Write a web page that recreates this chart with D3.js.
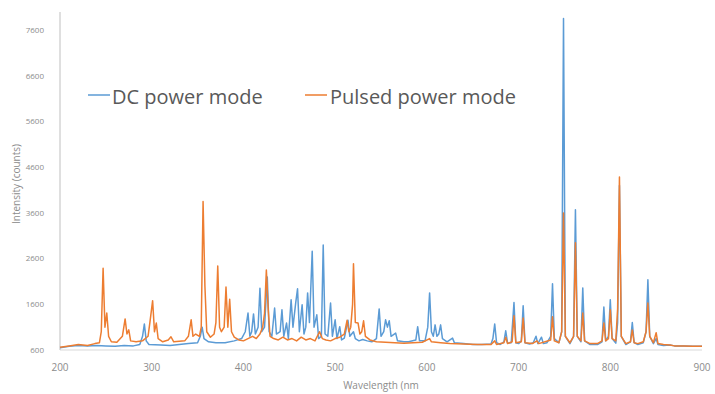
<!DOCTYPE html>
<html>
<head>
<meta charset="utf-8">
<script src="https://cdn.jsdelivr.net/npm/d3@7"></script>
<style>
  body { margin: 0; background: #fff; }
  svg { display: block; font-family: "Open Sans", "Liberation Sans", sans-serif; }
  .tick-label { fill: #8c8c8c; }
  .axis-title { fill: #8c8c8c; }
  .legend-text { fill: #595959; }
</style>
</head>
<body>
<div id="chart"></div>
<script>
// series names
const seriesNames = ["DC power mode", "Pulsed power mode"];

// DC power mode spectrum (wavelength nm, intensity counts)
const dcWavelength = [200, 210, 220, 230, 240, 250, 260, 270, 280, 287, 290, 292, 294, 297, 310, 320, 330, 340, 350, 353, 355, 357, 362, 370, 380, 390, 398, 402, 405, 407, 409, 411, 413, 416, 418, 420, 423, 426, 428, 431, 434, 436, 440, 442, 444, 447, 449, 452, 454, 457, 459, 461, 464, 466, 468, 470, 472, 475, 477, 480, 482, 485, 487, 489, 492, 495, 497, 500, 502, 505, 507, 510, 514, 516, 520, 522, 526, 530, 535, 540, 545, 548, 550, 553, 555, 557, 559, 561, 566, 568, 575, 580, 588, 590, 592, 598, 601, 603, 605, 607, 609, 611, 613, 615, 617, 622, 628, 630, 640, 650, 660, 670, 672, 674, 676, 680, 684, 686, 688, 692, 695, 697, 700, 703, 705, 707, 712, 716, 719, 721, 725, 727, 731, 735, 737, 739, 744, 747, 749, 751, 756, 760, 762, 764, 768, 770, 772, 778, 786, 791, 793, 795, 798, 800, 802, 806, 808, 810, 812, 817, 822, 824, 826, 830, 836, 839, 841, 843, 847, 850, 852, 858, 865, 870, 880, 890, 900];
const dcIntensity = [650, 680, 700, 690, 700, 690, 680, 700, 690, 720, 900, 1170, 800, 720, 710, 700, 720, 740, 760, 900, 1100, 850, 780, 760, 760, 800, 850, 1000, 1410, 900, 1000, 1390, 950, 1100, 1950, 1000, 1100, 2200, 1000, 900, 1520, 950, 1000, 1480, 900, 1190, 850, 1700, 1100, 1630, 1940, 1000, 1590, 950, 1100, 1850, 1200, 2760, 1100, 1370, 850, 900, 2900, 950, 900, 1630, 900, 1260, 850, 1110, 820, 860, 1250, 900, 1000, 850, 800, 830, 800, 780, 850, 1500, 900, 1000, 1260, 1100, 1240, 900, 970, 800, 780, 780, 820, 1110, 800, 800, 1100, 1850, 1000, 900, 1150, 900, 950, 1150, 850, 780, 860, 760, 740, 720, 720, 730, 850, 1170, 760, 720, 780, 1020, 750, 760, 1640, 760, 740, 800, 1570, 760, 730, 760, 900, 740, 880, 740, 760, 900, 2050, 850, 760, 1000, 7860, 900, 740, 900, 3670, 900, 780, 1960, 800, 720, 720, 780, 1540, 800, 900, 1700, 850, 750, 1200, 4200, 900, 720, 780, 1200, 760, 720, 760, 1000, 2140, 900, 740, 850, 720, 700, 710, 690, 690, 680, 680];

// Pulsed power mode spectrum (wavelength nm, intensity counts)
const pulsedWavelength = [200, 210, 220, 230, 238, 243, 245, 247, 249, 251, 253, 256, 262, 268, 271, 273, 275, 277, 283, 290, 296, 298, 301, 303, 305, 307, 312, 318, 321, 324, 330, 336, 340, 343, 345, 348, 352, 354, 356, 358, 360, 364, 368, 370, 372, 374, 376, 379, 381, 383, 385, 387, 390, 395, 400, 405, 410, 414, 418, 421, 423, 425, 427, 429, 433, 438, 443, 448, 453, 458, 463, 468, 473, 478, 483, 486, 490, 495, 500, 505, 510, 513, 515, 517, 519, 520, 522, 525, 527, 529, 531, 533, 538, 545, 555, 565, 575, 585, 595, 603, 605, 615, 625, 640, 655, 670, 674, 676, 684, 686, 688, 693, 695, 697, 703, 705, 707, 715, 720, 722, 735, 737, 739, 744, 747, 749, 751, 756, 760, 762, 764, 768, 770, 772, 778, 786, 791, 793, 795, 798, 800, 802, 806, 808, 810, 812, 817, 822, 824, 826, 830, 836, 839, 841, 843, 847, 850, 852, 858, 865, 870, 880, 890, 900];
const pulsedIntensity = [660, 690, 720, 700, 740, 760, 1000, 2390, 1100, 1410, 900, 780, 770, 900, 1280, 950, 1040, 800, 780, 800, 900, 1200, 1680, 1000, 1190, 850, 780, 820, 890, 780, 790, 800, 900, 1260, 900, 950, 900, 1100, 3850, 2000, 1000, 880, 950, 1200, 2440, 1100, 1000, 1100, 1980, 1100, 1710, 1000, 880, 820, 800, 850, 900, 850, 950, 1100, 1400, 2350, 1500, 900, 850, 820, 880, 820, 850, 800, 880, 820, 850, 800, 1000, 850, 820, 800, 850, 880, 950, 1250, 1000, 1100, 1600, 2490, 1200, 1190, 950, 1000, 1240, 900, 820, 780, 770, 760, 750, 760, 770, 850, 780, 760, 740, 730, 720, 720, 800, 720, 760, 880, 740, 780, 1350, 760, 780, 1300, 760, 740, 800, 740, 820, 1330, 800, 760, 1000, 3600, 900, 760, 900, 2950, 900, 800, 1410, 800, 740, 740, 800, 1190, 800, 850, 1480, 850, 800, 1500, 4390, 900, 740, 780, 1040, 760, 740, 780, 1000, 1630, 900, 760, 980, 740, 720, 710, 690, 690, 680, 680];

// axis ticks
const xTicks = [200, 300, 400, 500, 600, 700, 800, 900];
const yTicks = [600, 1600, 2600, 3600, 4600, 5600, 6600, 7600];

const width = 715;
const height = 394;
const plot = { left: 60, right: 702, top: 12, bottom: 350 };
const colors = ["#5b9bd5", "#ed7d31"];

const svg = d3.select("#chart")
  .append("svg")
  .attr("width", width)
  .attr("height", height);

const x = d3.scaleLinear().domain([200, 900]).range([plot.left, plot.right]);
const y = d3.scaleLinear().domain([600, 8000]).range([plot.bottom, plot.top]);

// axis lines
svg.append("line")
  .attr("x1", plot.left).attr("x2", plot.right)
  .attr("y1", y(600)).attr("y2", y(600))
  .attr("stroke", "#d9d9d9").attr("stroke-width", 1);

svg.append("line")
  .attr("x1", plot.left).attr("x2", plot.left)
  .attr("y1", plot.top).attr("y2", plot.bottom)
  .attr("stroke", "#bfbfbf").attr("stroke-width", 1);

// y tick labels
svg.append("g")
  .selectAll("text")
  .data(yTicks)
  .join("text")
  .attr("class", "tick-label")
  .attr("x", 44)
  .attr("y", d => y(d))
  .attr("dy", "0.35em")
  .attr("text-anchor", "end")
  .style("font-size", "8px")
  .text(d => d);

// x tick labels
svg.append("g")
  .selectAll("text")
  .data(xTicks)
  .join("text")
  .attr("class", "tick-label")
  .attr("x", d => x(d))
  .attr("y", 371)
  .attr("text-anchor", "middle")
  .style("font-size", "10px")
  .text(d => d);

// axis titles
svg.append("text")
  .attr("class", "axis-title")
  .attr("x", (plot.left + plot.right) / 2)
  .attr("y", 389)
  .attr("text-anchor", "middle")
  .style("font-size", "10px")
  .text("Wavelength (nm");

svg.append("text")
  .attr("class", "axis-title")
  .attr("transform", "translate(20, 184) rotate(-90)")
  .attr("text-anchor", "middle")
  .style("font-size", "10px")
  .text("Intensity (counts)");

// spectra
const line = d3.line()
  .x(d => x(d[0]))
  .y(d => y(d[1]));

const series = [
  d3.zip(dcWavelength, dcIntensity),
  d3.zip(pulsedWavelength, pulsedIntensity)
];

series.forEach((pts, i) => {
  svg.append("path")
    .datum(pts)
    .attr("fill", "none")
    .attr("stroke", colors[i])
    .attr("stroke-width", 1.5)
    .attr("stroke-linejoin", "round")
    .attr("d", line);
});

// legend
const legendPos = [{ lx: 88, tx: 112 }, { lx: 305, tx: 330 }];
seriesNames.forEach((name, i) => {
  const g = svg.append("g").attr("transform", `translate(0, 97)`);
  g.append("line")
    .attr("x1", legendPos[i].lx).attr("x2", legendPos[i].lx + 22)
    .attr("y1", -2).attr("y2", -2)
    .attr("stroke", colors[i]).attr("stroke-width", 1.5);
  g.append("text")
    .attr("class", "legend-text")
    .attr("x", legendPos[i].tx)
    .attr("y", 0)
    .attr("dy", "0.35em")
    .style("font-size", "20px")
    .text(name);
});
</script>
</body>
</html>
